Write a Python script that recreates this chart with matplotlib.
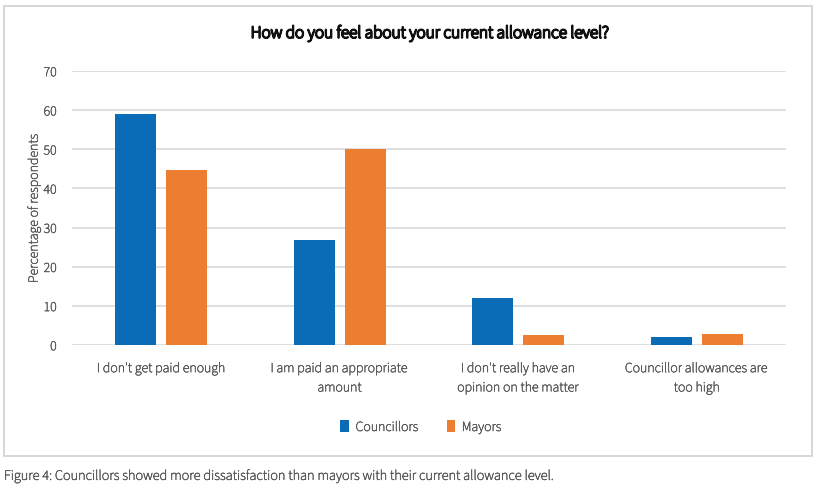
import matplotlib
matplotlib.use("Agg")
import matplotlib.pyplot as plt
import matplotlib.patheffects as pe
from matplotlib.patches import Rectangle
import numpy as np

categories = ["I don't get paid enough", "I am paid an appropriate\namount",
              "I don't really have an\nopinion on the matter", "Councillor allowances are\ntoo high"]
councillors = [59, 26.8, 12, 2]
mayors = [44.7, 50.1, 2.6, 2.7]
yticks = [0, 10, 20, 30, 40, 50, 60, 70]

plt.rcParams['font.family'] = ['Source Sans 3', 'DejaVu Sans']
GREY = '#595959'

def thicken(t, lw=0.35, color=GREY):
    t.set_path_effects([pe.withStroke(linewidth=lw, foreground=color)])

fig = plt.figure(figsize=(8.18, 4.96), dpi=100)
fig.patches.append(Rectangle((4/818, 1-456/496), 808/818, 450/496, transform=fig.transFigure,
                             fill=False, edgecolor='#d0d0d0', linewidth=1.2))
ax = fig.add_axes([72/818, 1-345/496, 714/818, 274/496])

x = np.arange(len(categories))
w = 0.23
off = w/2 + 0.028
ax.bar(x - off, councillors, w, color='#0a6bb6', label='Councillors', zorder=3)
ax.bar(x + off, mayors, w, color='#ed7d31', label='Mayors', zorder=3)

ax.set_xlim(-0.5, 3.5)
ax.set_ylim(0, 70)
ax.set_yticks(yticks)
ax.yaxis.grid(True, color='#d9d9d9', linewidth=1.2, zorder=0)
ax.set_axisbelow(True)
for s in ax.spines.values():
    s.set_visible(False)
ax.tick_params(axis='both', length=0, colors=GREY, labelsize=10)
ax.tick_params(axis='y', pad=11)
ax.tick_params(axis='x', pad=12)
ax.set_xticks(x)
ax.set_xticklabels(categories, linespacing=1.55)
yl = ax.set_ylabel('Percentage of respondents', color=GREY, fontsize=10, labelpad=2)
thicken(yl)
for t in ax.get_xticklabels() + ax.get_yticklabels():
    thicken(t)

title = fig.text(430/818, 1-33/496, 'How do you feel about your current allowance level?',
                 ha='center', va='center', fontsize=12.4, color='#111111')
thicken(title, lw=1.3, color='#111111')
leg = fig.legend(loc='center', bbox_to_anchor=(421/818, 1-427/496), ncol=2, frameon=False,
                 fontsize=10, handlelength=0.6, handleheight=1.0, columnspacing=2.0,
                 handletextpad=0.5, labelcolor=GREY)
for t in leg.get_texts():
    thicken(t)
cap = fig.text(4/818, 1-476/496, 'Figure 4: Councillors showed more dissatisfaction than mayors with their current allowance level.',
               ha='left', va='center', fontsize=10.3, color=GREY)
thicken(cap)

fig.savefig('out.png', dpi=100)
